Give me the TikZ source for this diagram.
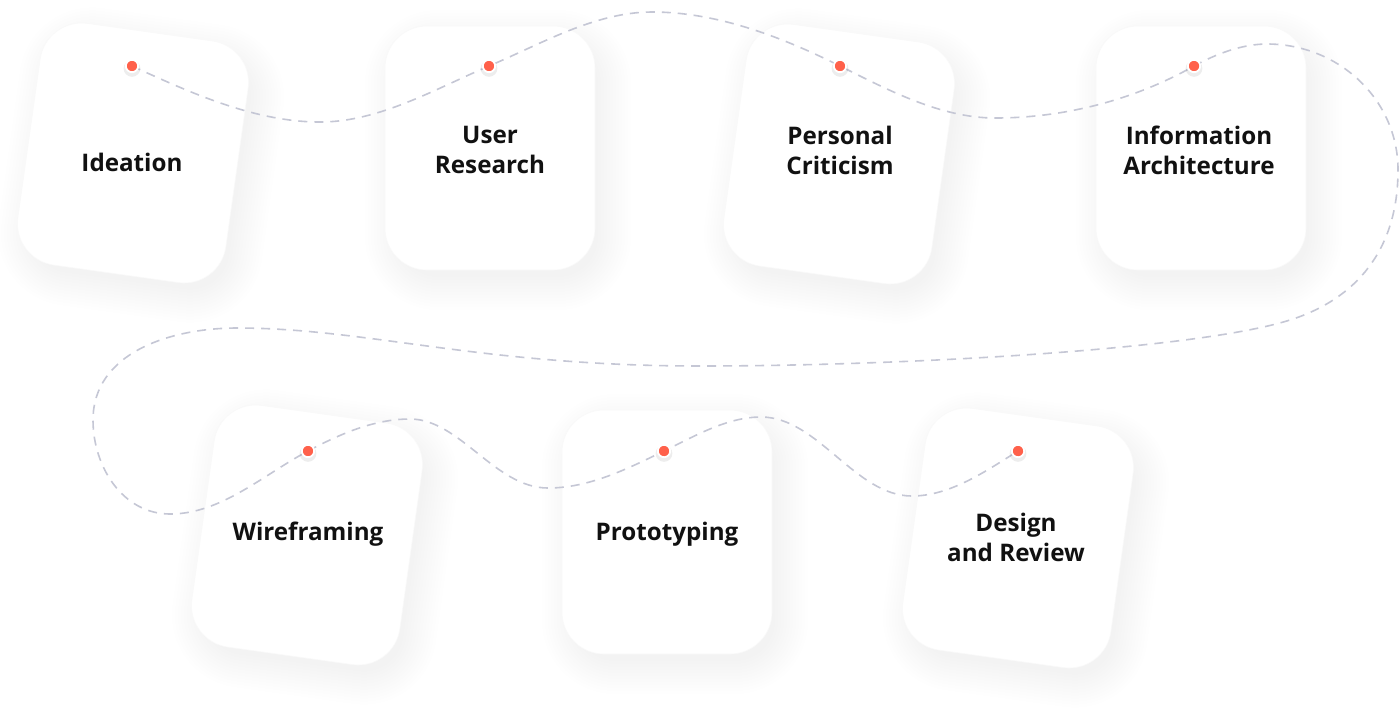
\documentclass[tikz,border=0pt]{standalone}
\usepackage{fontspec}
\IfFontExistsTF{Noto Sans Bold}{%
  \setmainfont{Noto Sans}[BoldFont={Noto Sans Bold}]%
}{%
  \IfFontExistsTF{Open Sans Bold}{%
    \setmainfont{Open Sans}[BoldFont={Open Sans Bold}]%
  }{%
    \setmainfont{Liberation Sans}%
  }%
}
\definecolor{dotred}{HTML}{FF614B}
\definecolor{pathgray}{HTML}{C5C7D5}
\definecolor{ink}{HTML}{111111}
\tikzset{
  card/.style={rectangle, fill=white, draw=black!2.5, line width=0.3pt, minimum width=105pt, minimum height=122pt, rounded corners=21pt, inner sep=0pt},
  shadowlayer/.style={rectangle, fill=black, fill opacity=0.0055, inner sep=0pt},
  cardtext/.style={font=\fontsize{12.1}{15}\selectfont\bfseries, text=ink, align=center, inner sep=0pt},
  route/.style={draw=pathgray, line width=0.8pt, dash pattern=on 4.5pt off 3.5pt},
  dotnode/.style={circle, fill=dotred, draw=white, line width=0.9pt, minimum size=6.2pt, inner sep=0pt},
  dotshadow/.style={circle, fill=black, fill opacity=0.07, minimum size=8.4pt, inner sep=0pt}
}
\newcommand\mkcard[4]{%
  \foreach \k in {0,...,11}{%
    \node[shadowlayer, xshift=4pt, yshift=-6pt, rotate=#4,
      minimum width={100pt+3pt*\k}, minimum height={117pt+3pt*\k},
      rounded corners={20pt+1.5pt*\k}] at (#2,#3) {};
  }%
  \node[card, rotate=#4] (#1) at (#2,#3) {};
}
\begin{document}
\begin{tikzpicture}[x=0.5pt, y=-0.5pt]
\useasboundingbox (0,0) rectangle (1400,714);
\fill[white] (0,0) rectangle (1400,714);

% cards
\mkcard{c1}{133}{153}{-8}
\mkcard{c2}{490}{148}{0}
\mkcard{c3}{839}{154}{-8}
\mkcard{c4}{1201}{148}{0}
\mkcard{c5}{307}{535}{-8}
\mkcard{c6}{667}{532}{0}
\mkcard{c7}{1018}{538}{-8}

% route waypoints
\coordinate (v1) at (320,122);
\coordinate (t1) at (652,12);
\coordinate (v2) at (995,118);
\coordinate (t2) at (1267,44);
\coordinate (r1) at (1398,170);
\coordinate (r2) at (1290,320);
\coordinate (m2) at (700,366);
\coordinate (l1) at (237,328);
\coordinate (l2) at (93,420);
\coordinate (l3) at (170,514);
\coordinate (t3) at (410,419);
\coordinate (v3) at (548,488);
\coordinate (t4) at (761,417);
\coordinate (v4) at (912,496);

% dot positions
\coordinate (p1) at (132,66);
\coordinate (p2) at (489,66);
\coordinate (p3) at (840,66);
\coordinate (p4) at (1194,66);
\coordinate (p5) at (308,451);
\coordinate (p6) at (664,451);
\coordinate (p7) at (1018,451);

% dashed route
\draw[route] (p1)
  .. controls (191,93) and (255,122) .. (v1)
  .. controls (379,122) and (435,89) .. (p2)
  .. controls (541,44) and (595,12) .. (t1)
  .. controls (717,12) and (782,37) .. (p3)
  .. controls (888,90) and (941,118) .. (v2)
  .. controls (1064,118) and (1134,100) .. (p4)
  .. controls (1216,54) and (1242,44) .. (t2)
  .. controls (1338,44) and (1398,99) .. (r1)
  .. controls (1398,250) and (1356,299) .. (r2)
  .. controls (1195,350) and (900,366) .. (m2)
  .. controls (480,366) and (367,328) .. (l1)
  .. controls (170,328) and (93,353) .. (l2)
  .. controls (93,467) and (123,514) .. (l3)
  .. controls (221,514) and (263,475) .. (p5)
  .. controls (340,434) and (374,419) .. (t3)
  .. controls (460,419) and (495,488) .. (v3)
  .. controls (589,488) and (627,469) .. (p6)
  .. controls (695,436) and (727,417) .. (t4)
  .. controls (818,417) and (855,496) .. (v4)
  .. controls (950,496) and (986,471) .. (p7);

% dots
\foreach \p in {p1,p2,p3,p4,p5,p6,p7}{
  \node[dotshadow, yshift=-1.2pt] at (\p) {};
}
\node[dotnode] (d1) at (p1) {};
\node[dotnode] (d2) at (p2) {};
\node[dotnode] (d3) at (p3) {};
\node[dotnode] (d4) at (p4) {};
\node[dotnode] (d5) at (p5) {};
\node[dotnode] (d6) at (p6) {};
\node[dotnode] (d7) at (p7) {};

% texts
\node[cardtext] (x1) at (132,162) {Ideation};
\node[cardtext] (x2) at (490,150) {User\\Research};
\node[cardtext] (x3) at (840,150) {Personal\\Criticism};
\node[cardtext] (x4) at (1199,150) {Information\\Architecture};
\node[cardtext] (x5) at (308,534) {Wireframing};
\node[cardtext] (x6) at (667,534) {Prototyping};
\node[cardtext] (x7) at (1016,537) {Design\\and Review};
\end{tikzpicture}
\end{document}
